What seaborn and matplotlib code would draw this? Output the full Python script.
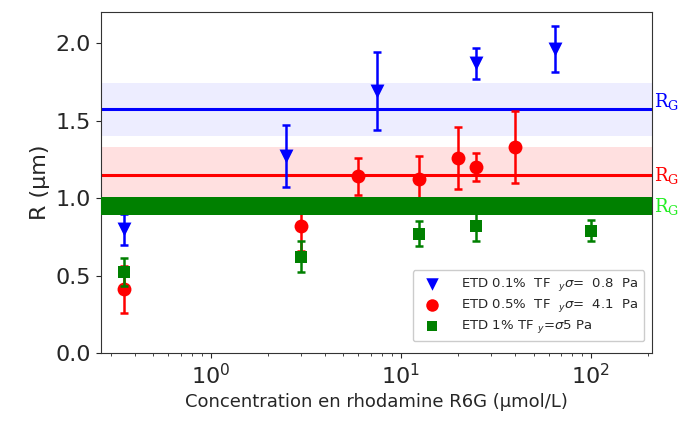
import numpy as np
import pandas as pd
import matplotlib
matplotlib.use("Agg")
import matplotlib.pyplot as plt
import seaborn as sns

# ---- data ----
conc_01 = [0.35, 2.5, 7.5, 25, 65]
R_01 = [0.80, 1.27, 1.69, 1.87, 1.96]
err_01 = [0.10, 0.20, 0.25, 0.10, 0.15]

conc_05 = [0.35, 3.0, 6.0, 12.5, 20, 25, 40]
R_05 = [0.41, 0.82, 1.14, 1.12, 1.26, 1.20, 1.33]
err_05 = [0.15, 0.16, 0.12, 0.15, 0.20, 0.09, 0.23]

conc_1 = [0.35, 3.0, 12.5, 25, 100]
R_1 = [0.52, 0.62, 0.77, 0.82, 0.79]
err_1 = [0.09, 0.10, 0.08, 0.10, 0.07]

RG_vals = [1.572, 1.148, 0.95]
RG_lo = [1.40, 1.008, 0.89]
RG_hi = [1.744, 1.329, 1.008]
RG_label_y = [1.62, 1.148, 0.944]

labels = [r"ETD 0.1%  TF  $_{y}\sigma$=  0.8  Pa",
          r"ETD 0.5%  TF  $_{y}\sigma$=  4.1  Pa",
          r"ETD 1% TF $_{y}$=$\sigma$5 Pa"]
colors = ["#0000ff", "#ff0000", "#008000"]
markers = ["v", "o", "s"]
msizes = [10, 10, 8.5]
rg_text_colors = ["#0000ff", "#ff0000", "#22ee22"]

sns.set_style("ticks")
plt.rcParams['font.family'] = ['DejaVu Sans']

fig = plt.figure(figsize=(6.82, 4.22), dpi=100)
ax = fig.add_axes([0.148, 0.1635, 0.808, 0.808])
ax.set_xscale("log")

series = [(conc_01, R_01, err_01), (conc_05, R_05, err_05), (conc_1, R_1, err_1)]

# bands and lines
band_alpha = [0.07, 0.12, 1.0]
for i in range(3):
    ax.axhspan(RG_lo[i], RG_hi[i], color=colors[i], alpha=band_alpha[i], lw=0,
               zorder=1 if i < 2 else 4)
    if i < 2:
        ax.axhline(RG_vals[i], color=colors[i], lw=2.2, zorder=2)

for i, (x, y, e) in enumerate(series):
    df = pd.DataFrame({"x": x, "y": y})
    ax.errorbar(x, y, yerr=e, fmt="none", ecolor=colors[i], elinewidth=1.8,
                capsize=3, capthick=1.8, zorder=3)
    sns.scatterplot(data=df, x="x", y="y", ax=ax, marker=markers[i],
                    color=colors[i], s=msizes[i] ** 2, edgecolor=colors[i],
                    linewidth=0, label=labels[i], zorder=3)

for i in range(3):
    ax.text(1.003, RG_label_y[i], r"R$_\mathrm{G}$", transform=ax.get_yaxis_transform(),
            color=rg_text_colors[i], fontsize=13, family="DejaVu Serif",
            va="center", ha="left", math_fontfamily="dejavuserif")

ax.set_xlim(0.265, 210)
ax.set_ylim(0, 2.2)
ax.set_yticks([0.0, 0.5, 1.0, 1.5, 2.0])
ax.set_yticklabels(["0.0", "0.5", "1.0", "1.5", "2.0"])
ax.tick_params(axis="both", labelsize=16, direction="out")
ax.tick_params(axis="x", which="minor", direction="out")
ax.set_xlabel("Concentration en rhodamine R6G (µmol/L)", fontsize=13)
ax.set_ylabel("R (µm)", fontsize=16)

for s in ax.spines.values():
    s.set_visible(True)
    s.set_color("#333333")

leg = ax.legend(loc="lower right", fontsize=9.5, frameon=True, framealpha=1,
                borderpad=0.45, labelspacing=0.3, handletextpad=1.2,
                markerscale=0.9, bbox_to_anchor=(0.998, 0.015))
leg.set_zorder(6)

fig.savefig("out.png", dpi=100)
